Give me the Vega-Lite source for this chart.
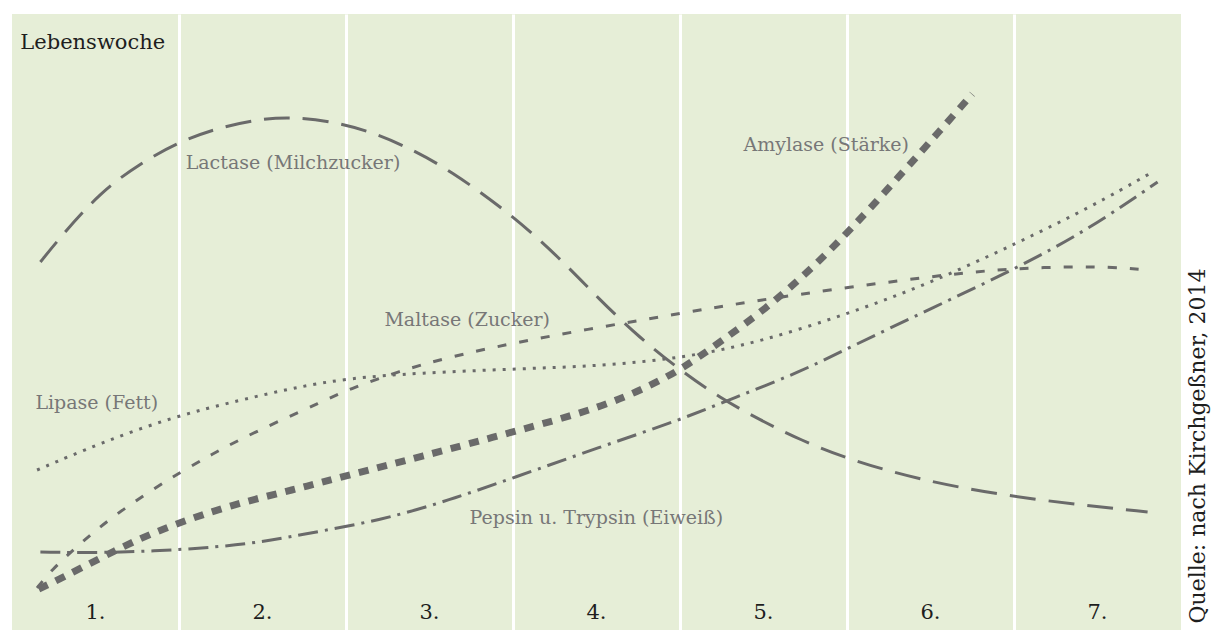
{
  "$schema": "https://vega.github.io/schema/vega-lite/v6.json",
  "width": 1169,
  "height": 616,
  "autosize": "none",
  "padding": {"left": 12, "top": 14, "right": 30, "bottom": 0},
  "background": "white",
  "config": {
    "view": {"fill": "#e6eed7", "stroke": null},
    "font": "DejaVu Serif"
  },
  "datasets": {
    "curves": [
      {"enzyme": "Lactase", "woche": 0.17, "aktivitaet": 368},
      {"enzyme": "Lactase", "woche": 0.29, "aktivitaet": 393},
      {"enzyme": "Lactase", "woche": 0.53, "aktivitaet": 438},
      {"enzyme": "Lactase", "woche": 0.77, "aktivitaet": 467},
      {"enzyme": "Lactase", "woche": 1.01, "aktivitaet": 489},
      {"enzyme": "Lactase", "woche": 1.25, "aktivitaet": 503},
      {"enzyme": "Lactase", "woche": 1.49, "aktivitaet": 511},
      {"enzyme": "Lactase", "woche": 1.67, "aktivitaet": 513},
      {"enzyme": "Lactase", "woche": 1.90, "aktivitaet": 509},
      {"enzyme": "Lactase", "woche": 2.14, "aktivitaet": 499},
      {"enzyme": "Lactase", "woche": 2.38, "aktivitaet": 482},
      {"enzyme": "Lactase", "woche": 2.62, "aktivitaet": 460},
      {"enzyme": "Lactase", "woche": 2.98, "aktivitaet": 417},
      {"enzyme": "Lactase", "woche": 3.28, "aktivitaet": 372},
      {"enzyme": "Lactase", "woche": 3.52, "aktivitaet": 330},
      {"enzyme": "Lactase", "woche": 3.76, "aktivitaet": 292},
      {"enzyme": "Lactase", "woche": 4.00, "aktivitaet": 260},
      {"enzyme": "Lactase", "woche": 4.24, "aktivitaet": 232},
      {"enzyme": "Lactase", "woche": 4.48, "aktivitaet": 210},
      {"enzyme": "Lactase", "woche": 4.72, "aktivitaet": 190},
      {"enzyme": "Lactase", "woche": 5.02, "aktivitaet": 170},
      {"enzyme": "Lactase", "woche": 5.44, "aktivitaet": 150},
      {"enzyme": "Lactase", "woche": 5.92, "aktivitaet": 135},
      {"enzyme": "Lactase", "woche": 6.40, "aktivitaet": 125},
      {"enzyme": "Lactase", "woche": 6.80, "aktivitaet": 118},

      {"enzyme": "Maltase", "woche": 0.15, "aktivitaet": 42},
      {"enzyme": "Maltase", "woche": 0.23, "aktivitaet": 59},
      {"enzyme": "Maltase", "woche": 0.41, "aktivitaet": 87},
      {"enzyme": "Maltase", "woche": 0.60, "aktivitaet": 113},
      {"enzyme": "Maltase", "woche": 0.81, "aktivitaet": 137},
      {"enzyme": "Maltase", "woche": 1.01, "aktivitaet": 158},
      {"enzyme": "Maltase", "woche": 1.20, "aktivitaet": 176},
      {"enzyme": "Maltase", "woche": 1.37, "aktivitaet": 191},
      {"enzyme": "Maltase", "woche": 1.60, "aktivitaet": 209},
      {"enzyme": "Maltase", "woche": 1.84, "aktivitaet": 227},
      {"enzyme": "Maltase", "woche": 2.02, "aktivitaet": 241},
      {"enzyme": "Maltase", "woche": 2.32, "aktivitaet": 259},
      {"enzyme": "Maltase", "woche": 2.62, "aktivitaet": 273},
      {"enzyme": "Maltase", "woche": 3.00, "aktivitaet": 287},
      {"enzyme": "Maltase", "woche": 3.52, "aktivitaet": 303},
      {"enzyme": "Maltase", "woche": 4.02, "aktivitaet": 317},
      {"enzyme": "Maltase", "woche": 4.40, "aktivitaet": 328},
      {"enzyme": "Maltase", "woche": 5.02, "aktivitaet": 343},
      {"enzyme": "Maltase", "woche": 5.62, "aktivitaet": 356},
      {"enzyme": "Maltase", "woche": 6.02, "aktivitaet": 362},
      {"enzyme": "Maltase", "woche": 6.51, "aktivitaet": 364},
      {"enzyme": "Maltase", "woche": 6.81, "aktivitaet": 360},

      {"enzyme": "Lipase", "woche": 0.15, "aktivitaet": 160},
      {"enzyme": "Lipase", "woche": 0.53, "aktivitaet": 187},
      {"enzyme": "Lipase", "woche": 0.96, "aktivitaet": 213},
      {"enzyme": "Lipase", "woche": 1.37, "aktivitaet": 230},
      {"enzyme": "Lipase", "woche": 1.68, "aktivitaet": 242},
      {"enzyme": "Lipase", "woche": 2.02, "aktivitaet": 252},
      {"enzyme": "Lipase", "woche": 2.44, "aktivitaet": 257},
      {"enzyme": "Lipase", "woche": 3.00, "aktivitaet": 261},
      {"enzyme": "Lipase", "woche": 3.52, "aktivitaet": 264},
      {"enzyme": "Lipase", "woche": 4.02, "aktivitaet": 272},
      {"enzyme": "Lipase", "woche": 4.48, "aktivitaet": 288},
      {"enzyme": "Lipase", "woche": 5.02, "aktivitaet": 317},
      {"enzyme": "Lipase", "woche": 5.50, "aktivitaet": 347},
      {"enzyme": "Lipase", "woche": 6.02, "aktivitaet": 387},
      {"enzyme": "Lipase", "woche": 6.46, "aktivitaet": 423},
      {"enzyme": "Lipase", "woche": 6.83, "aktivitaet": 458},

      {"enzyme": "Pepsin", "woche": 0.17, "aktivitaet": 78},
      {"enzyme": "Pepsin", "woche": 0.53, "aktivitaet": 77},
      {"enzyme": "Pepsin", "woche": 1.01, "aktivitaet": 80},
      {"enzyme": "Pepsin", "woche": 1.43, "aktivitaet": 86},
      {"enzyme": "Pepsin", "woche": 1.72, "aktivitaet": 95},
      {"enzyme": "Pepsin", "woche": 2.22, "aktivitaet": 110},
      {"enzyme": "Pepsin", "woche": 2.62, "aktivitaet": 130},
      {"enzyme": "Pepsin", "woche": 3.00, "aktivitaet": 152},
      {"enzyme": "Pepsin", "woche": 3.52, "aktivitaet": 183},
      {"enzyme": "Pepsin", "woche": 4.00, "aktivitaet": 210},
      {"enzyme": "Pepsin", "woche": 4.32, "aktivitaet": 232},
      {"enzyme": "Pepsin", "woche": 4.72, "aktivitaet": 258},
      {"enzyme": "Pepsin", "woche": 5.02, "aktivitaet": 283},
      {"enzyme": "Pepsin", "woche": 5.51, "aktivitaet": 322},
      {"enzyme": "Pepsin", "woche": 6.02, "aktivitaet": 362},
      {"enzyme": "Pepsin", "woche": 6.46, "aktivitaet": 402},
      {"enzyme": "Pepsin", "woche": 6.86, "aktivitaet": 448},

      {"enzyme": "Amylase", "woche": 0.16, "aktivitaet": 41},
      {"enzyme": "Amylase", "woche": 0.31, "aktivitaet": 53},
      {"enzyme": "Amylase", "woche": 0.53, "aktivitaet": 72},
      {"enzyme": "Amylase", "woche": 0.72, "aktivitaet": 88},
      {"enzyme": "Amylase", "woche": 0.96, "aktivitaet": 105},
      {"enzyme": "Amylase", "woche": 1.31, "aktivitaet": 125},
      {"enzyme": "Amylase", "woche": 1.68, "aktivitaet": 140},
      {"enzyme": "Amylase", "woche": 2.02, "aktivitaet": 155},
      {"enzyme": "Amylase", "woche": 2.44, "aktivitaet": 173},
      {"enzyme": "Amylase", "woche": 3.00, "aktivitaet": 198},
      {"enzyme": "Amylase", "woche": 3.52, "aktivitaet": 222},
      {"enzyme": "Amylase", "woche": 3.82, "aktivitaet": 244},
      {"enzyme": "Amylase", "woche": 4.02, "aktivitaet": 262},
      {"enzyme": "Amylase", "woche": 4.24, "aktivitaet": 288},
      {"enzyme": "Amylase", "woche": 4.52, "aktivitaet": 322},
      {"enzyme": "Amylase", "woche": 4.78, "aktivitaet": 360},
      {"enzyme": "Amylase", "woche": 5.02, "aktivitaet": 400},
      {"enzyme": "Amylase", "woche": 5.32, "aktivitaet": 455},
      {"enzyme": "Amylase", "woche": 5.56, "aktivitaet": 500},
      {"enzyme": "Amylase", "woche": 5.75, "aktivitaet": 536}
    ],
    "labels": [
      {"text": "Lactase (Milchzucker)", "woche": 1.04, "aktivitaet": 467},
      {"text": "Amylase (Stärke)", "woche": 4.38, "aktivitaet": 485},
      {"text": "Maltase (Zucker)", "woche": 2.23, "aktivitaet": 310},
      {"text": "Lipase (Fett)", "woche": 0.14, "aktivitaet": 227},
      {"text": "Pepsin u. Trypsin (Eiweiß)", "woche": 2.74, "aktivitaet": 112}
    ],
    "weeks": [
      {"text": "1.", "woche": 0.5, "aktivitaet": 17},
      {"text": "2.", "woche": 1.5, "aktivitaet": 17},
      {"text": "3.", "woche": 2.5, "aktivitaet": 17},
      {"text": "4.", "woche": 3.5, "aktivitaet": 17},
      {"text": "5.", "woche": 4.5, "aktivitaet": 17},
      {"text": "6.", "woche": 5.5, "aktivitaet": 17},
      {"text": "7.", "woche": 6.5, "aktivitaet": 17}
    ],
    "title": [
      {"text": "Lebenswoche", "woche": 0.05, "aktivitaet": 587}
    ],
    "source": [
      {"text": "Quelle: nach Kirchgeßner, 2014", "woche": 7.10, "aktivitaet": 184}
    ]
  },
  "encoding": {
    "x": {
      "field": "woche", "type": "quantitative",
      "scale": {"domain": [0, 7], "nice": false, "zero": false},
      "axis": {"values": [1, 2, 3, 4, 5, 6], "grid": true, "gridColor": "white", "gridWidth": 3, "gridOpacity": 1, "labels": false, "ticks": false, "domain": false, "title": null}
    },
    "y": {
      "field": "aktivitaet", "type": "quantitative",
      "scale": {"domain": [0, 616], "nice": false, "zero": false},
      "axis": null
    }
  },
  "layer": [
    {
      "data": {"name": "curves"},
      "transform": [{"filter": "datum.enzyme !== 'Amylase'"}],
      "mark": {"type": "line", "interpolate": "basis", "color": "#6a6a6a", "strokeWidth": 3, "strokeCap": "butt"},
      "encoding": {
        "detail": {"field": "enzyme"},
        "strokeDash": {
          "field": "enzyme", "type": "nominal",
          "scale": {"domain": ["Lactase", "Maltase", "Lipase", "Pepsin"],
                    "range": [[26, 13], [9, 13], [3, 7], [20, 7, 3, 7]]},
          "legend": null
        }
      }
    },
    {
      "data": {"name": "curves"},
      "transform": [{"filter": "datum.enzyme === 'Amylase'"}],
      "mark": {"type": "line", "interpolate": "basis", "color": "#6a6a6a", "strokeWidth": 7, "strokeDash": [10, 9], "strokeCap": "butt"},
      "encoding": {}
    },
    {
      "data": {"name": "labels"},
      "mark": {"type": "text", "align": "left", "baseline": "middle", "fontSize": 19, "color": "#777777"},
      "encoding": {"text": {"field": "text"}}
    },
    {
      "data": {"name": "weeks"},
      "mark": {"type": "text", "align": "center", "baseline": "middle", "fontSize": 21, "color": "#1e1e1e"},
      "encoding": {"text": {"field": "text"}}
    },
    {
      "data": {"name": "title"},
      "mark": {"type": "text", "align": "left", "baseline": "middle", "fontSize": 21, "color": "#1e1e1e"},
      "encoding": {"text": {"field": "text"}}
    },
    {
      "data": {"name": "source"},
      "mark": {"type": "text", "align": "center", "baseline": "middle", "fontSize": 22, "angle": 270, "color": "#1e1e1e"},
      "encoding": {"text": {"field": "text"}}
    }
  ]
}
